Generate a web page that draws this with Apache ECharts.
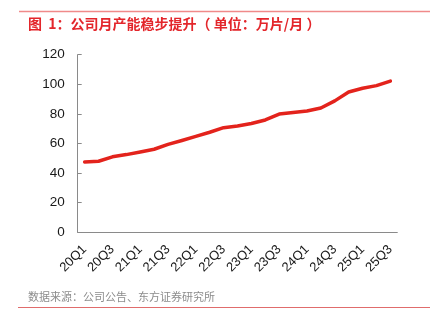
<!DOCTYPE html>
<html>
<head>
<meta charset="utf-8">
<script src="https://cdn.jsdelivr.net/npm/echarts@6/dist/echarts.min.js"></script>
<style>
  html, body { margin: 0; padding: 0; background: #fff; }
  #chart { width: 442px; height: 325px; }
</style>
</head>
<body>
<div id="chart"></div>
<script>
// Quarterly categories, 20Q1 .. 25Q3
const quarters = [
  '20Q1', '20Q2', '20Q3', '20Q4',
  '21Q1', '21Q2', '21Q3', '21Q4',
  '22Q1', '22Q2', '22Q3', '22Q4',
  '23Q1', '23Q2', '23Q3', '23Q4',
  '24Q1', '24Q2', '24Q3', '24Q4',
  '25Q1', '25Q2', '25Q3'
];

// Monthly capacity (万片/月)
const capacity = [
  47.5, 48.0, 51.0, 52.5,
  54.3, 56.1, 59.4, 62.0,
  64.8, 67.6, 70.7, 71.8,
  73.5, 75.9, 79.9, 81.0,
  82.0, 84.0, 88.8, 94.8,
  97.3, 99.1, 102.2
];

const yTicks = { min: 0, max: 120, step: 20 };

const titleText = '图  1：公司月产能稳步提升（ 单位：万片/月 ）';
const sourceText = '数据来源：公司公告、东方证券研究所';

const chart = echarts.init(document.getElementById('chart'), null, { renderer: 'canvas' });

const fontFamily = '"Liberation Sans", Arial, "Noto Sans CJK SC", sans-serif';
const cjkFont = '"Noto Sans CJK SC", "Liberation Sans", sans-serif';

chart.setOption({
  animation: false,
  backgroundColor: '#ffffff',
  graphic: [
    {
      type: 'line',
      shape: { x1: 19, y1: 11.5, x2: 430, y2: 11.5 },
      style: { stroke: '#f08a8a', lineWidth: 1.4 }
    },
    {
      type: 'text',
      left: 28,
      top: 17,
      style: {
        text: titleText,
        fill: '#e3262b',
        font: 'bold 14px ' + cjkFont
      }
    },
    {
      type: 'text',
      left: 28,
      top: 291,
      style: {
        text: sourceText,
        fill: '#8c8c8c',
        font: '11px ' + cjkFont
      }
    },
    {
      type: 'line',
      shape: { x1: 18, y1: 307.5, x2: 430, y2: 307.5 },
      style: { stroke: '#e06c6c', lineWidth: 1.2 }
    }
  ],
  grid: {
    left: 77.7,
    right: 44.7,
    top: 54.7,
    bottom: 92.7,
    containLabel: false
  },
  xAxis: {
    type: 'category',
    data: quarters,
    boundaryGap: true,
    axisLine: { lineStyle: { color: '#8a8a8a', width: 1 } },
    axisTick: { inside: true, length: 3, alignWithLabel: false, interval: 0, lineStyle: { color: '#8a8a8a' } },
    axisLabel: {
      interval: 1,
      rotate: 45,
      margin: 15,
      color: '#1a1a1a',
      fontSize: 13,
      fontFamily: fontFamily
    },
    splitLine: { show: false }
  },
  yAxis: {
    type: 'value',
    min: yTicks.min,
    max: yTicks.max,
    interval: yTicks.step,
    axisLine: { show: true, lineStyle: { color: '#8a8a8a', width: 1 } },
    axisTick: { show: true, inside: true, length: 4, lineStyle: { color: '#8a8a8a' } },
    axisLabel: {
      margin: 13,
      color: '#1a1a1a',
      fontSize: 13.5,
      fontFamily: fontFamily
    },
    splitLine: { show: false }
  },
  series: [
    {
      type: 'line',
      data: capacity,
      showSymbol: false,
      symbol: 'none',
      smooth: false,
      lineStyle: { color: '#e3231c', width: 3.5, join: 'round', cap: 'round' }
    }
  ]
});
</script>
</body>
</html>
